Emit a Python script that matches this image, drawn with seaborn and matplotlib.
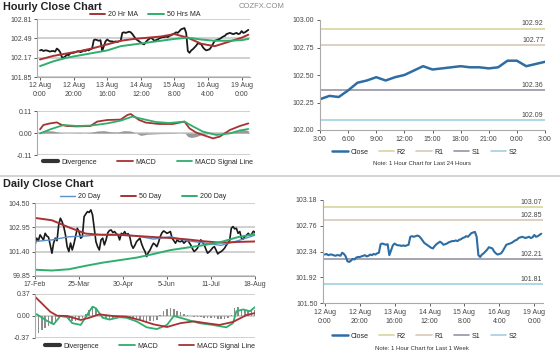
import numpy as np
import pandas as pd
import matplotlib
matplotlib.use("Agg")
import matplotlib.pyplot as plt
import seaborn as sns
from matplotlib.lines import Line2D

# ---------------- Hourly (1 week) data ----------------
hourly_close = [
    102.29, 102.30, 102.28, 102.29, 102.29, 102.28, 102.27, 102.28, 102.28, 102.27,
    102.32, 102.30, 102.26, 102.18, 102.17, 102.19, 102.22, 102.21, 102.24, 102.25,
    102.25, 102.26, 102.27, 102.28, 102.26, 102.27, 102.29, 102.28, 102.30, 102.29,
    102.31, 102.32, 102.46, 102.47, 102.46, 102.45, 102.46, 102.28, 102.36, 102.44,
    102.47, 102.45, 102.44, 102.44, 102.43, 102.44, 102.43, 102.44, 102.45, 102.58,
    102.59, 102.58, 102.59, 102.60, 102.59, 102.56, 102.52, 102.48, 102.46, 102.44,
    102.42, 102.40, 102.39, 102.43, 102.46, 102.48, 102.50, 102.48, 102.45, 102.46,
    102.47, 102.49, 102.50, 102.51, 102.51, 102.52, 102.51, 102.53, 102.54, 102.56,
    102.57, 102.59, 102.58, 102.61, 102.64, 102.65, 102.66, 102.58, 102.28, 102.25,
    102.29, 102.31, 102.34, 102.37, 102.41, 102.40, 102.39, 102.34, 102.31, 102.29,
    102.30, 102.31, 102.35, 102.40, 102.45, 102.46, 102.47, 102.48, 102.50, 102.52,
    102.53, 102.56, 102.57, 102.58, 102.57, 102.56, 102.57, 102.58, 102.56, 102.57,
    102.61, 102.58, 102.59, 102.61, 102.63,
]
hourly_tick_pos = [0, 20, 40, 60, 80, 100, 120]
hourly_tick_labels = ["12 Aug\n0:00", "12 Aug\n20:00", "13 Aug\n16:00", "14 Aug\n12:00",
                      "15 Aug\n8:00", "16 Aug\n4:00", "19 Aug\n0:00"]

ma_h_idx = [0, 8, 16, 24, 32, 40, 48, 56, 64, 72, 80, 88, 96, 104, 112, 120, 124]
ma20_h = [102.14, 102.20, 102.24, 102.28, 102.33, 102.39, 102.45, 102.48, 102.50,
          102.52, 102.56, 102.50, 102.40, 102.36, 102.43, 102.50, 102.55]
ma50_h = [102.03, 102.11, 102.17, 102.21, 102.25, 102.29, 102.36, 102.39, 102.42,
          102.45, 102.48, 102.50, 102.47, 102.45, 102.45, 102.46, 102.48]

macd_h_idx = [0, 2, 6, 10, 13, 16, 22, 30, 34, 40, 48, 52, 54, 59, 63, 71, 79, 86,
              89, 93, 97, 103, 107, 113, 119, 124]
macd_h = [0.018, 0.040, 0.048, 0.053, 0.040, 0.035, 0.033, 0.035, 0.057, 0.065,
          0.067, 0.090, 0.095, 0.065, 0.052, 0.045, 0.045, 0.057, 0.023, 0.002,
          -0.010, -0.027, -0.018, 0.015, 0.035, 0.048]
signal_h_idx = [0, 6, 14, 22, 30, 40, 48, 55, 61, 69, 77, 86, 91, 97, 105, 113, 119, 124]
signal_h = [-0.002, 0.018, 0.040, 0.035, 0.037, 0.048, 0.062, 0.082, 0.070, 0.055,
            0.050, 0.057, 0.033, 0.007, -0.010, -0.002, 0.013, 0.020]
div_h_idx = [0, 4, 8, 12, 16, 24, 30, 34, 38, 42, 46, 50, 54, 57, 60, 64, 72, 80,
             86, 88, 90, 92, 94, 96, 100, 106, 112, 118, 121, 124]
div_h = [0.0, 0.012, 0.010, 0.002, 0.0, -0.002, 0.003, 0.010, 0.012, 0.006, 0.004,
         0.012, 0.010, 0.0, -0.012, -0.006, -0.003, -0.002, 0.002, -0.018, -0.022,
         -0.020, -0.015, -0.008, -0.004, -0.002, 0.005, 0.010, 0.018, 0.012]

# ---------------- Last 24 hours ----------------
day_close = [102.28, 102.31, 102.30, 102.36, 102.43, 102.45, 102.48, 102.45, 102.48,
             102.50, 102.54, 102.58, 102.55, 102.56, 102.57, 102.58, 102.57, 102.57,
             102.56, 102.57, 102.63, 102.63, 102.58, 102.60, 102.62]
day_tick_labels = ["3:00", "6:00", "9:00", "12:00", "15:00", "18:00", "21:00", "0:00", "3:00"]
levels_24h = {"R2": 102.92, "R1": 102.77, "S1": 102.36, "S2": 102.09}
levels_week = {"R2": 103.07, "R1": 102.85, "S1": 102.21, "S2": 101.81}

# ---------------- Daily data ----------------
daily_close = [
    101.83, 102.26, 102.10, 102.47, 102.30, 102.15, 102.57, 102.40, 102.32, 101.83,
    101.30, 101.95, 102.26, 102.10, 103.10, 103.53, 103.31, 102.99, 102.47, 101.72,
    101.41, 101.95, 101.51, 101.89, 102.40, 102.89, 102.68, 102.26, 102.36, 103.63,
    103.80, 103.95, 103.90, 104.06, 103.74, 102.89, 102.04, 101.72, 101.51, 102.15,
    102.26, 101.83, 102.15, 102.60, 102.75, 102.78, 102.62, 102.68, 102.55, 102.47,
    102.15, 102.57, 102.50, 102.68, 102.47, 102.55, 102.36, 101.83, 101.62, 101.80,
    102.04, 102.15, 102.26, 101.90, 101.62, 101.41, 101.09, 101.35, 101.51, 101.75,
    101.94, 101.85, 101.72, 102.00, 102.36, 102.60, 102.72, 102.65, 102.57, 102.62,
    102.68, 102.26, 102.10, 101.94, 102.15, 102.05, 102.04, 102.10, 101.94, 102.05,
    102.15, 102.00, 101.83, 101.60, 101.41, 101.50, 101.62, 101.90, 102.15, 102.00,
    101.83, 101.55, 101.30, 101.40, 101.51, 101.65, 101.72, 101.50, 101.26, 101.35,
    101.41, 101.50, 101.62, 101.80, 101.94, 102.10, 102.89, 103.00, 102.85, 102.89,
    102.57, 102.68, 102.26, 102.20, 102.36, 102.45, 102.57, 102.45, 102.51, 102.70,
    102.63,
]
daily_tick_pos = [0, 26, 52, 78, 104, 130]
daily_tick_labels = ["17-Feb", "25-Mar", "30-Apr", "5-Jun", "11-Jul", "18-Aug"]

ma_d_idx = [0, 10, 20, 30, 40, 50, 60, 70, 80, 90, 100, 110, 120, 130]
ma20_d = [102.05, 102.15, 102.35, 102.40, 102.50, 102.50, 102.40, 102.20, 102.35,
          102.10, 101.95, 101.80, 102.10, 102.45]
ma50_d = [103.55, 103.40, 102.95, 102.55, 102.47, 102.47, 102.40, 102.33, 102.27,
          102.18, 102.06, 101.97, 102.02, 102.05]
ma200_d = [100.25, 100.20, 100.28, 100.50, 100.70, 100.86, 101.02, 101.25, 101.50,
           101.66, 101.82, 102.02, 102.33, 102.52]

macd_d_idx = [0, 1, 7, 11, 15, 19, 22, 27, 31, 34, 36, 40, 44, 50, 54, 60, 66, 72,
              78, 82, 86, 92, 97, 105, 113, 117, 119, 123, 127, 130]
macd_d = [0.02, 0.03, -0.08, -0.14, 0.0, -0.02, -0.12, -0.15, 0.03, 0.157, 0.13,
          -0.03, -0.06, -0.02, -0.03, -0.09, -0.19, -0.22, -0.15, 0.0, -0.03, -0.08,
          -0.12, -0.15, -0.19, -0.12, 0.08, 0.11, 0.08, 0.15]
signal_d_idx = [0, 5, 9, 13, 19, 27, 32, 38, 46, 54, 62, 70, 78, 86, 94, 101, 109,
                117, 125, 130]
signal_d = [0.325, 0.185, 0.072, 0.005, 0.0, -0.067, -0.03, 0.028, 0.0, -0.01,
            -0.067, -0.14, -0.185, -0.12, -0.09, -0.12, -0.15, -0.10, 0.016, 0.05]
div_d_idx = list(range(0, 131, 2))
div_d = [-0.30, -0.28, -0.24, -0.20, -0.17, -0.14, -0.08, -0.02, -0.01, -0.02,
         -0.05, -0.08, -0.08, -0.06, -0.03, 0.04, 0.10, 0.16, 0.12, 0.03,
         -0.04, -0.05, -0.06, -0.05, -0.03, -0.02, -0.02, -0.02, -0.03, -0.03,
         -0.03, -0.05, -0.08, -0.10, -0.09, -0.08, -0.06, 0.02, 0.08, 0.12,
         0.14, 0.12, 0.09, 0.07, 0.04, 0.02, 0.0, -0.02, -0.02, -0.02,
         -0.03, -0.03, -0.03, -0.04, -0.05, -0.05, -0.05, -0.04, 0.02, 0.14,
         0.15, 0.12, 0.10, 0.08, 0.08, 0.10]

# ---------------- Styling ----------------
sns.set_theme(style="white")
plt.rcParams['font.family'] = ['Liberation Sans', 'DejaVu Sans']
plt.rcParams['axes.linewidth'] = 0.8

C_RED = "#a83232"
C_GREEN = "#2fae6e"
C_BLUE = "#5b8fc9"
C_CLOSE = "#2e6da4"
C_LEVEL = {"R2": "#d8d49c", "R1": "#d8c8b8", "S1": "#9a93a6", "S2": "#9fd0e2"}
GRID = "#c8c8c8"
FS = 5

W, H = 560, 353
fig = plt.figure(figsize=(5.6, 3.53), dpi=100)
fig.patch.set_facecolor("white")


def box(x0, y0, x1, y1):
    return fig.add_axes([x0 / W, 1 - y1 / H, (x1 - x0) / W, (y1 - y0) / H])


def line(ax, x, y, color, lw, label=None):
    df = pd.DataFrame({"x": x, "y": y})
    sns.lineplot(data=df, x="x", y="y", ax=ax, color=color, linewidth=lw,
                 estimator=None, sort=False, label=label, legend=False)
    ax.set_xlabel("")
    ax.set_ylabel("")


def style_left(ax, yticks, xlim):
    ax.set_xlim(*xlim)
    ax.set_ylim(yticks[0], yticks[-1])
    ax.set_yticks(yticks)
    ax.set_yticklabels([f"{v:.2f}" for v in yticks])
    ax.grid(axis="y", color=GRID, lw=1.2)
    ax.set_axisbelow(True)
    for s in ["top", "right"]:
        ax.spines[s].set_visible(False)
    ax.spines["left"].set_color("#aaaaaa")
    ax.spines["bottom"].set_color("#aaaaaa")
    ax.tick_params(labelsize=FS, length=2, pad=1.5, colors="#444444",
                   left=True, bottom=True, width=0.6)


def style_right(ax, yticks, xlim):
    ax.set_xlim(*xlim)
    ax.set_ylim(yticks[0], yticks[-1])
    ax.set_yticks(yticks)
    ax.set_yticklabels([f"{v:.2f}" for v in yticks])
    ax.grid(False)
    for s in ["top", "right"]:
        ax.spines[s].set_visible(False)
    ax.spines["left"].set_color("#aaaaaa")
    ax.spines["bottom"].set_color("#aaaaaa")
    ax.tick_params(labelsize=FS, length=2, pad=2, colors="#444444",
                   left=True, bottom=True, width=0.6)


def legend(ax, handles, labels, cx, cy, colsp=1.5, hl=2.2):
    ax.legend(handles, labels, loc="center", bbox_to_anchor=(cx / W, 1 - cy / H),
              bbox_transform=fig.transFigure, ncol=len(handles), frameon=False,
              fontsize=FS, handlelength=hl, columnspacing=colsp,
              handletextpad=0.4, borderpad=0, borderaxespad=0)


# ---- Hourly close chart (top-left) ----
hx = list(range(len(hourly_close)))
ax1 = box(37, 19, 250, 77)
line(ax1, hx, hourly_close, "#1a1a1a", 1.3)
line(ax1, ma_h_idx, ma20_h, C_RED, 1.4)
line(ax1, ma_h_idx, ma50_h, C_GREEN, 1.4)
style_left(ax1, [101.85, 102.17, 102.49, 102.81], (-1.8, 125))
ax1.set_xticks(hourly_tick_pos)
ax1.set_xticklabels(hourly_tick_labels, linespacing=1.5)
legend(ax1, [Line2D([], [], color=C_RED, lw=1.4), Line2D([], [], color=C_GREEN, lw=1.4)],
       ["20 Hr MA", "50 Hrs MA"], 145, 15)

ax2 = box(37, 111, 250, 155)
ax2.fill_between(div_h_idx, 0, div_h, color="#9a9a9a", lw=0)
line(ax2, macd_h_idx, macd_h, C_RED, 1.3)
line(ax2, signal_h_idx, signal_h, C_GREEN, 1.3)
style_left(ax2, [-0.11, 0.0, 0.11], (-1.8, 125))
ax2.spines["bottom"].set_visible(False)
ax2.set_xticks([])
legend(ax2, [Line2D([], [], color="#333333", lw=3), Line2D([], [], color=C_RED, lw=1.3),
             Line2D([], [], color=C_GREEN, lw=1.3)],
       ["Divergence", "MACD", "MACD Signal Line"], 148, 162, colsp=3)

# ---- Last 24 hours (top-right) ----
ax3 = box(320, 20, 545, 130)
for k in ["R2", "R1", "S1", "S2"]:
    ax3.axhline(levels_24h[k], color=C_LEVEL[k], lw=1.2)
    ax3.text(23.85, levels_24h[k] + 0.012, f"{levels_24h[k]:.2f}", ha="right",
             va="bottom", fontsize=FS, color="#444444")
line(ax3, list(range(len(day_close))), day_close, C_CLOSE, 1.8)
style_right(ax3, [102.00, 102.25, 102.50, 102.75, 103.00], (0, 24))
ax3.set_xticks(list(range(0, 25, 3)))
ax3.set_xticklabels(day_tick_labels)
legend(ax3, [Line2D([], [], color=C_CLOSE, lw=1.8)] +
       [Line2D([], [], color=C_LEVEL[k], lw=1.2) for k in ["R2", "R1", "S1", "S2"]],
       ["Close", "R2", "R1", "S1", "S2"], 425, 152)
fig.text(422 / W, 1 - 163 / H, "Note: 1 Hour Chart for Last 24 Hours", ha="center",
         va="center", fontsize=4.3, color="#333333")

# ---- Daily close chart (bottom-left) ----
dx = list(range(len(daily_close)))
ax4 = box(35, 203, 255, 276)
line(ax4, dx, daily_close, "#1a1a1a", 1.2)
line(ax4, ma_d_idx, ma20_d, C_BLUE, 1.0)
line(ax4, ma_d_idx, ma50_d, C_RED, 1.4)
line(ax4, ma_d_idx, ma200_d, C_GREEN, 1.4)
style_left(ax4, [99.85, 101.40, 102.95, 104.50], (0, 130))
ax4.set_xticks(daily_tick_pos)
ax4.set_xticklabels(daily_tick_labels)
legend(ax4, [Line2D([], [], color=C_BLUE, lw=1.0), Line2D([], [], color=C_RED, lw=1.4),
             Line2D([], [], color=C_GREEN, lw=1.4)],
       ["20 Day", "50 Day", "200 Day"], 143, 197, colsp=3)

ax5 = box(35, 294, 255, 338)
ax5.bar(div_d_idx, div_d, width=0.9, color="#8c8c8c", lw=0)
line(ax5, macd_d_idx, macd_d, C_GREEN, 1.3)
line(ax5, signal_d_idx, signal_d, C_RED, 1.3)
style_left(ax5, [-0.37, 0.0, 0.37], (0, 130))
ax5.spines["bottom"].set_visible(False)
ax5.set_xticks([])
legend(ax5, [Line2D([], [], color="#333333", lw=3), Line2D([], [], color=C_GREEN, lw=1.3),
             Line2D([], [], color=C_RED, lw=1.3)],
       ["Divergence", "MACD", "MACD Signal Line"], 150, 346, colsp=3)

# ---- Last week hourly (bottom-right) ----
ax6 = box(323, 200, 543, 303)
for k in ["R2", "R1", "S1", "S2"]:
    ax6.axhline(levels_week[k], color=C_LEVEL[k], lw=1.2)
    ax6.text(124.5, levels_week[k] + 0.02, f"{levels_week[k]:.2f}", ha="right",
             va="bottom", fontsize=FS, color="#444444")
line(ax6, hx, hourly_close, C_CLOSE, 1.5)
style_right(ax6, [101.50, 101.92, 102.34, 102.76, 103.18], (-1, 125))
ax6.set_xticks(hourly_tick_pos)
ax6.set_xticklabels(hourly_tick_labels, linespacing=1.5)
legend(ax6, [Line2D([], [], color=C_CLOSE, lw=1.8)] +
       [Line2D([], [], color=C_LEVEL[k], lw=1.2) for k in ["R2", "R1", "S1", "S2"]],
       ["Close", "R2", "R1", "S1", "S2"], 425, 336)
fig.text(422 / W, 1 - 348 / H, "Note: 1 Hour Chart for Last 1 Week", ha="center",
         va="center", fontsize=4.3, color="#333333")

# ---- Titles, watermark, separators ----
fig.text(3 / W, 1 - 7 / H, "Hourly Close Chart", ha="left", va="center",
         fontsize=7.8, fontweight="bold", color="#222222")
fig.text(3 / W, 1 - 184 / H, "Daily Close Chart", ha="left", va="center",
         fontsize=7.8, fontweight="bold", color="#222222")
fig.text(262 / W, 1 - 6 / H, "COZFX.COM", ha="center", va="center",
         fontsize=5.5, color="#888888")
fig.add_artist(Line2D([0, 1], [1 - 176 / H, 1 - 176 / H], transform=fig.transFigure,
                      color="#cccccc", lw=1.2))

fig.savefig("out.png", dpi=100)
